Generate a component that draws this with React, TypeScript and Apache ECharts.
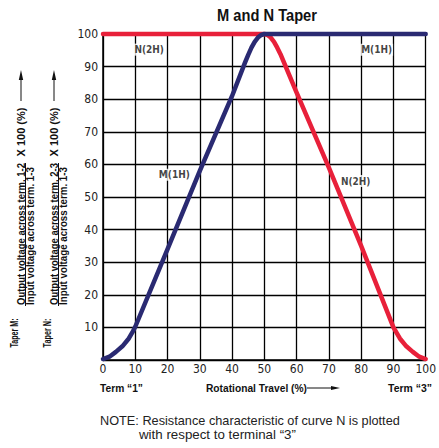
import React, { useEffect, useRef } from "react";
import * as echarts from "echarts";

const title = "M and N Taper";
const xTicks = [0, 10, 20, 30, 40, 50, 60, 70, 80, 90, 100];
// Taper M (1H) curve
const mX = [0, 2, 4, 6, 8, 9, 10, 20, 30, 40, 44, 45, 46, 47, 48, 49, 50, 100];
const mY = [0.3, 1, 2.5, 4.2, 6.6, 8.3, 10.2, 34, 58, 81, 91.2, 93.6, 95.8, 97.6, 98.9, 99.7, 100, 100];
// Taper N (2H) curve
const nX = [0, 50, 51, 52, 53, 54, 55, 60, 70, 80, 90, 91, 92, 94, 96, 98, 100];
const nY = [100, 100, 99.7, 98.9, 97.6, 95.8, 93.8, 82, 59, 35, 10, 8.3, 6.6, 4.2, 2.5, 1, 0.3];
// in-plot curve labels [x, y, text]
const curveLabels: [number, number, string][] = [
  [14.3, 95.2, "N(2H)"],
  [84.8, 95.2, "M(1H)"],
  [22.1, 56.8, "M(1H)"],
  [78.3, 54.9, "N(2H)"],
];
const bottomLeft = "Term \u201c1\u201d";
const bottomMid = "Rotational Travel (%)";
const bottomRight = "Term \u201c3\u201d";
const note1 = "NOTE: Resistance characteristic of curve N is plotted";
const note2 = "with respect to terminal \u201c3\u201d";
const yTitleM = ["Taper M:", "Output voltage across term. 1-2", "Input voltage across term. 1-3"];
const yTitleN = ["Taper N:", "Output voltage across term. 2-3", "Input voltage across term. 1-3"];
const yTimes = "X 100 (%)";

const SANS = "'Liberation Sans', Arial, sans-serif";
const COND = "'DejaVu Sans Condensed', 'Liberation Sans', sans-serif";
const NAVY = "#2a2a72";
const RED = "#e8203a";

let measureCtx: CanvasRenderingContext2D | null = null;
function fit(text: string, size: number, bold: boolean, target: number) {
  if (!measureCtx) measureCtx = document.createElement("canvas").getContext("2d");
  if (!measureCtx) return 1;
  measureCtx.font = `${bold ? "bold " : ""}${size}px 'Liberation Sans', Arial, sans-serif`;
  const w = measureCtx.measureText(text).width;
  return w > 0 ? target / w : 1;
}

function txt(text: string, x: number, y: number, size: number, bold: boolean, width: number, align: string, rotated = false, fill = "#111") {
  return {
    type: "text",
    x,
    y,
    rotation: rotated ? Math.PI / 2 : 0,
    scaleX: fit(text, size, bold, width),
    style: {
      text,
      fontFamily: SANS,
      fontSize: size,
      fontWeight: bold ? "bold" : "normal",
      fill,
      align,
      verticalAlign: "middle",
    },
  };
}

function leftBlock(x0: number, t: string[]) {
  return [
    txt(t[0], x0, 333, 11, true, 29, "center", true),
    txt(t[1], x0 + 7, 234, 11, true, 142, "center", true),
    { type: "line", shape: { x1: x0 + 11.5, y1: 163, x2: x0 + 11.5, y2: 306 }, style: { stroke: "#111", lineWidth: 1 } },
    txt(t[2], x0 + 16, 236, 11, true, 138, "center", true),
    txt(yTimes, x0 + 7, 132, 11, true, 49, "center", true),
    { type: "line", shape: { x1: x0 + 7, y1: 101, x2: x0 + 7, y2: 78 }, style: { stroke: "#111", lineWidth: 1 } },
    { type: "polygon", shape: { points: [[x0 + 7, 70], [x0 + 4.8, 80], [x0 + 9.2, 80]] }, style: { fill: "#111" } },
  ];
}

export default function App() {
  const ref = useRef<HTMLDivElement>(null);
  useEffect(() => {
    if (!ref.current) return;
    const chart = echarts.init(ref.current, undefined, { renderer: "svg" });
    const mData = mX.map((x, i) => [x, mY[i]]);
    const nData = nX.map((x, i) => [x, nY[i]]);
    chart.setOption({
      animation: false,
      backgroundColor: "#fff",
      grid: { left: 103, right: 7, top: 34, bottom: 88, containLabel: false },
      xAxis: {
        type: "value",
        min: 0,
        max: 100,
        interval: 10,
        axisLine: { show: true, lineStyle: { color: "#000", width: 1.5 } },
        axisTick: { show: false },
        axisLabel: { fontFamily: COND, fontSize: 12, color: "#222", margin: 3, customValues: xTicks },
        splitLine: { show: true, lineStyle: { color: "#000", width: 1.3 } },
      },
      yAxis: {
        type: "value",
        min: 0,
        max: 100,
        interval: 10,
        axisLine: { show: true, lineStyle: { color: "#000", width: 1.5 } },
        axisTick: { show: false },
        axisLabel: {
          fontFamily: COND,
          fontSize: 12,
          color: "#222",
          margin: 5,
          formatter: (v: number) => (v === 0 ? "" : String(v)),
        },
        splitLine: { show: true, lineStyle: { color: "#000", width: 1.3 } },
      },
      series: [
        {
          type: "line",
          name: "N(2H)",
          data: nData,
          showSymbol: false,
          smooth: false,
          clip: false,
          lineStyle: { color: RED, width: 4.5, cap: "round", join: "round" },
          z: 3,
        },
        {
          type: "line",
          name: "M(1H)",
          data: mData,
          showSymbol: false,
          smooth: false,
          clip: false,
          lineStyle: { color: NAVY, width: 4.5, cap: "round", join: "round" },
          z: 4,
        },
        {
          type: "scatter",
          data: curveLabels.map((c) => ({ value: [c[0], c[1]], name: c[2] })),
          symbolSize: 0,
          z: 5,
          label: {
            show: true,
            position: "inside",
            formatter: (p: any) => p.name,
            fontFamily: COND,
            fontWeight: "bold",
            fontSize: 10,
            color: "#111",
            backgroundColor: "#fff",
            padding: [1, 1],
          },
        },
      ],
      graphic: [
        txt(title, 267, 15, 16, true, 100, "center"),
        ...leftBlock(14, yTitleM),
        ...leftBlock(47, yTitleN),
        txt(bottomLeft, 100, 388, 11, true, 43, "left"),
        txt(bottomMid, 206, 388, 11, true, 101, "left"),
        { type: "line", shape: { x1: 307, y1: 388, x2: 333, y2: 388 }, style: { stroke: "#111", lineWidth: 1 } },
        { type: "polygon", shape: { points: [[340, 388], [331, 386], [331, 390]] }, style: { fill: "#111" } },
        txt(bottomRight, 432, 388, 11, true, 44, "right"),
        txt(note1, 100, 420, 13, false, 300, "left", false, "#222"),
        txt(note2, 139, 435, 13, false, 157, "left", false, "#222"),
      ],
    });
    return () => chart.dispose();
  }, []);
  return <div ref={ref} style={{ position: "absolute", left: 0, top: 0, width: 439, height: 448 }} />;
}
